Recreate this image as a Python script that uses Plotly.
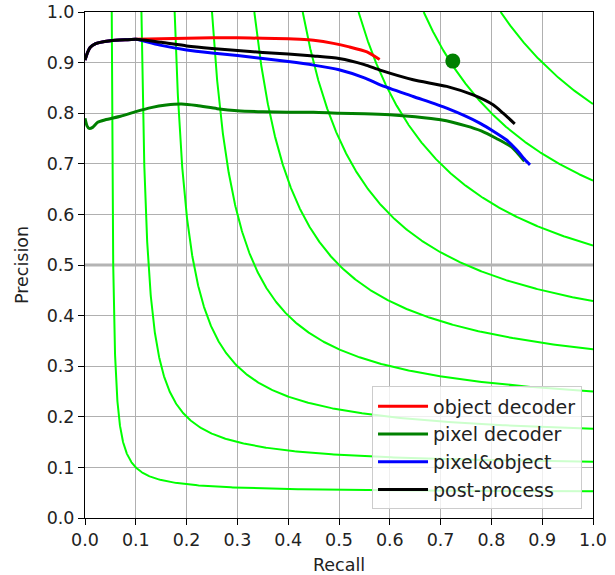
import numpy as np
import plotly.graph_objects as go

# ---- data ----
f_levels = [0.1, 0.2, 0.3, 0.4, 0.5, 0.6, 0.7, 0.8, 0.9]

obj_recall = [0.0, 0.005, 0.01, 0.02, 0.03, 0.05, 0.08, 0.1, 0.15, 0.2, 0.25, 0.3, 0.35, 0.4, 0.423, 0.45, 0.489, 0.52, 0.555, 0.58]
obj_prec = [0.905, 0.92, 0.93, 0.937, 0.94, 0.943, 0.945, 0.946, 0.947, 0.948, 0.949, 0.949, 0.948, 0.947, 0.946, 0.944, 0.938, 0.931, 0.921, 0.906]

pix_recall = [0.0, 0.004, 0.008, 0.015, 0.025, 0.04, 0.07, 0.1, 0.13, 0.16, 0.19, 0.22, 0.26, 0.3, 0.35, 0.4, 0.45, 0.5, 0.55, 0.6, 0.65, 0.7, 0.75, 0.78, 0.81, 0.84, 0.865]
pix_prec = [0.79, 0.775, 0.77, 0.772, 0.782, 0.787, 0.794, 0.803, 0.811, 0.816, 0.818, 0.815, 0.809, 0.805, 0.803, 0.802, 0.802, 0.800, 0.799, 0.797, 0.793, 0.787, 0.775, 0.765, 0.750, 0.733, 0.705]

po_recall = [0.0, 0.005, 0.01, 0.02, 0.03, 0.05, 0.08, 0.1, 0.15, 0.2, 0.25, 0.3, 0.35, 0.4, 0.45, 0.5, 0.55, 0.581, 0.646, 0.712, 0.778, 0.83, 0.85, 0.866, 0.876]
po_prec = [0.905, 0.92, 0.93, 0.937, 0.94, 0.943, 0.945, 0.946, 0.934, 0.925, 0.919, 0.914, 0.908, 0.902, 0.895, 0.886, 0.870, 0.856, 0.833, 0.810, 0.780, 0.747, 0.727, 0.708, 0.698]

pp_recall = [0.0, 0.005, 0.01, 0.02, 0.03, 0.05, 0.08, 0.1, 0.15, 0.2, 0.25, 0.3, 0.35, 0.4, 0.45, 0.5, 0.55, 0.581, 0.646, 0.712, 0.764, 0.804, 0.823, 0.846]
pp_prec = [0.905, 0.92, 0.93, 0.937, 0.94, 0.943, 0.945, 0.946, 0.940, 0.933, 0.928, 0.924, 0.920, 0.917, 0.913, 0.908, 0.896, 0.885, 0.866, 0.853, 0.836, 0.816, 0.800, 0.779]

point_recall = [0.724]
point_prec = [0.903]

series = [
    ("object decoder", obj_recall, obj_prec, "#ff0000"),
    ("pixel decoder", pix_recall, pix_prec, "#008000"),
    ("pixel&object", po_recall, po_prec, "#0000ff"),
    ("post-process", pp_recall, pp_prec, "#000000"),
]

fig = go.Figure()

# horizontal reference line at precision 0.5
fig.add_trace(go.Scatter(x=[0, 1], y=[0.5, 0.5], mode="lines",
                         line=dict(color="#b4b4b4", width=3),
                         showlegend=False, hoverinfo="skip"))

# iso-F curves: P = F*R / (2R - F)
for f in f_levels:
    d0 = f / (2 - f) - f / 2          # offset from asymptote where P = 1
    d = np.geomspace(d0, 1 - f / 2, 400)
    r = f / 2 + d
    p = f * r / (2 * r - f)
    fig.add_trace(go.Scatter(x=r, y=p, mode="lines",
                             line=dict(color="#00ff00", width=2),
                             showlegend=False, hoverinfo="skip"))

for name, rx, py, col in series:
    fig.add_trace(go.Scatter(x=rx, y=py, mode="lines", name=name,
                             line=dict(color=col, width=3, shape="spline", smoothing=0.6)))

fig.add_trace(go.Scatter(x=point_recall, y=point_prec, mode="markers",
                         marker=dict(color="#008000", size=15),
                         showlegend=False))

axis_common = dict(
    range=[0, 1], dtick=0.1, tick0=0, tickformat=".1f",
    showgrid=True, gridcolor="#b0b0b0", gridwidth=1,
    showline=True, linecolor="black", linewidth=1, mirror=True,
    ticks="outside", ticklen=6, tickcolor="black",
    zeroline=False, automargin=False,
    tickfont=dict(size=17.5, color="#222"),
)

fig.update_layout(
    width=615, height=575,
    margin=dict(l=85, r=22, t=12, b=57),
    paper_bgcolor="white", plot_bgcolor="white",
    font=dict(family="DejaVu Sans", size=17.5, color="#222"),
    xaxis=dict(title=dict(text="Recall", font=dict(size=17.5), standoff=10), **axis_common),
    yaxis=dict(title=dict(text="Precision", font=dict(size=17.5), standoff=13), **axis_common),
    legend=dict(x=0.565, y=0.26, xanchor="left", yanchor="top",
                bgcolor="rgba(255,255,255,0.8)", bordercolor="#cccccc", borderwidth=1,
                font=dict(size=19, color="#222"), tracegroupgap=0, itemwidth=50),
)

fig.write_html("out.html", config={"displayModeBar": False},
               post_script="document.body.style.margin='0px';")
